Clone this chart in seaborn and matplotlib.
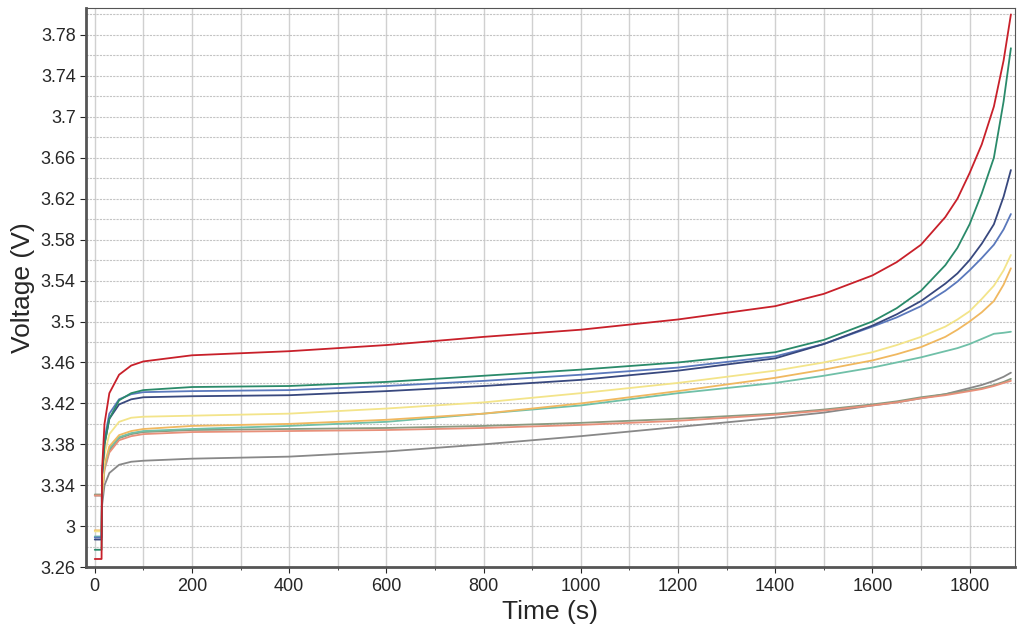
import numpy as np
import pandas as pd
import matplotlib
matplotlib.use("Agg")
import matplotlib.pyplot as plt
import seaborn as sns
from matplotlib.ticker import MultipleLocator

time_s = [0, 14, 15, 20, 30, 50, 75, 100, 200, 400, 600, 800, 1000, 1200,
          1400, 1500, 1600, 1650, 1700, 1750, 1775, 1800, 1825, 1850, 1870, 1885]

cells = {
    "red": [3.268, 3.268, 3.355, 3.40, 3.43, 3.448, 3.457, 3.461, 3.467, 3.471, 3.477, 3.485, 3.492, 3.502, 3.515, 3.527, 3.545, 3.558, 3.575, 3.602, 3.62, 3.645, 3.673, 3.71, 3.755, 3.80],
    "green": [3.277, 3.277, 3.35, 3.38, 3.405, 3.423, 3.430, 3.433, 3.436, 3.437, 3.441, 3.447, 3.453, 3.460, 3.470, 3.482, 3.500, 3.513, 3.530, 3.555, 3.572, 3.595, 3.625, 3.66, 3.715, 3.767],
    "navy": [3.287, 3.287, 3.35, 3.38, 3.405, 3.419, 3.424, 3.426, 3.427, 3.428, 3.432, 3.437, 3.443, 3.452, 3.464, 3.478, 3.496, 3.507, 3.52, 3.537, 3.547, 3.56, 3.576, 3.595, 3.622, 3.648],
    "blue": [3.289, 3.289, 3.35, 3.385, 3.41, 3.424, 3.429, 3.431, 3.432, 3.433, 3.437, 3.442, 3.448, 3.455, 3.466, 3.478, 3.495, 3.504, 3.515, 3.530, 3.539, 3.55, 3.562, 3.575, 3.59, 3.605],
    "yellow": [3.295, 3.295, 3.34, 3.37, 3.39, 3.402, 3.406, 3.407, 3.408, 3.41, 3.415, 3.421, 3.43, 3.44, 3.452, 3.46, 3.47, 3.477, 3.485, 3.495, 3.502, 3.51, 3.522, 3.535, 3.55, 3.565],
    "orange": [3.296, 3.296, 3.33, 3.36, 3.378, 3.389, 3.393, 3.395, 3.398, 3.400, 3.404, 3.41, 3.42, 3.432, 3.445, 3.453, 3.462, 3.468, 3.475, 3.485, 3.492, 3.50, 3.509, 3.52, 3.536, 3.552],
    "teal": [3.290, 3.290, 3.33, 3.358, 3.376, 3.387, 3.391, 3.393, 3.395, 3.398, 3.402, 3.41, 3.418, 3.43, 3.44, 3.447, 3.455, 3.46, 3.465, 3.471, 3.474, 3.478, 3.483, 3.488, 3.489, 3.49],
    "salmon": [3.330, 3.330, 3.33, 3.355, 3.372, 3.384, 3.388, 3.390, 3.392, 3.393, 3.394, 3.396, 3.399, 3.403, 3.409, 3.413, 3.418, 3.421, 3.425, 3.428, 3.43, 3.432, 3.434, 3.437, 3.44, 3.442],
    "olive": [3.331, 3.331, 3.332, 3.357, 3.374, 3.386, 3.390, 3.392, 3.394, 3.395, 3.396, 3.398, 3.401, 3.405, 3.410, 3.414, 3.419, 3.422, 3.426, 3.429, 3.431, 3.433, 3.435, 3.438, 3.441, 3.444],
    "gray": [3.330, 3.330, 3.32, 3.34, 3.352, 3.36, 3.363, 3.364, 3.366, 3.368, 3.373, 3.38, 3.388, 3.397, 3.406, 3.411, 3.418, 3.421, 3.425, 3.429, 3.432, 3.435, 3.438, 3.442, 3.446, 3.45],
}

colors = {
    "red": "#c8202a", "green": "#2a8a6a", "navy": "#38487e", "blue": "#5a78bc",
    "yellow": "#f3e48a", "orange": "#f0b860", "teal": "#70c0a8",
    "salmon": "#e8907a", "olive": "#8a9a80", "gray": "#888888",
}

y_ticks = [3.26, 3.30, 3.34, 3.38, 3.42, 3.46, 3.50, 3.54, 3.58, 3.62, 3.66, 3.70, 3.74, 3.78]
y_labels = ["3.26", "3", "3.34", "3.38", "3.42", "3.46", "3.5", "3.54", "3.58", "3.62", "3.66", "3.7", "3.74", "3.78"]

rows = []
for name, vals in cells.items():
    for t, v in zip(time_s, vals):
        rows.append({"cell": name, "time": t, "voltage": v})
df = pd.DataFrame(rows)

sns.set_style("white")
plt.rcParams["font.family"] = ["Liberation Sans", "DejaVu Sans"]
fig = plt.figure(figsize=(10.24, 6.38), dpi=100)
ax = fig.add_axes([0.084, 0.111, 0.907, 0.876])

# bundle first, upper curves on top
order = ["gray", "olive", "salmon", "teal", "orange", "yellow", "blue", "navy", "green", "red"]
for name in order:
    sub = df[df["cell"] == name]
    sns.lineplot(data=sub, x="time", y="voltage", color=colors[name], lw=1.3, ax=ax)

ax.set_xlim(-18, 1893)
ax.set_ylim(3.26, 3.806)
ax.set_xticks(range(0, 1801, 200))
ax.xaxis.set_minor_locator(MultipleLocator(100))
ax.set_yticks(y_ticks)
ax.set_yticklabels(y_labels)
ax.yaxis.set_minor_locator(MultipleLocator(0.02))
ax.grid(which="both", axis="x", color="#d0d0d0", lw=1)
ax.grid(which="both", axis="y", color="#c4c4c4", ls=(0, (2, 1)), lw=0.8)
ax.set_axisbelow(True)
ax.tick_params(axis="both", which="major", labelsize=13, length=4, direction="out", bottom=True, left=True)
ax.tick_params(axis="x", which="minor", length=2, bottom=True)
for s in ax.spines.values():
    s.set_color("#555555")
ax.spines["left"].set_linewidth(2)
ax.spines["bottom"].set_linewidth(2)
ax.set_xlabel("Time (s)", fontsize=19)
ax.set_ylabel("Voltage (V)", fontsize=19)

fig.savefig("out.png", dpi=100)
